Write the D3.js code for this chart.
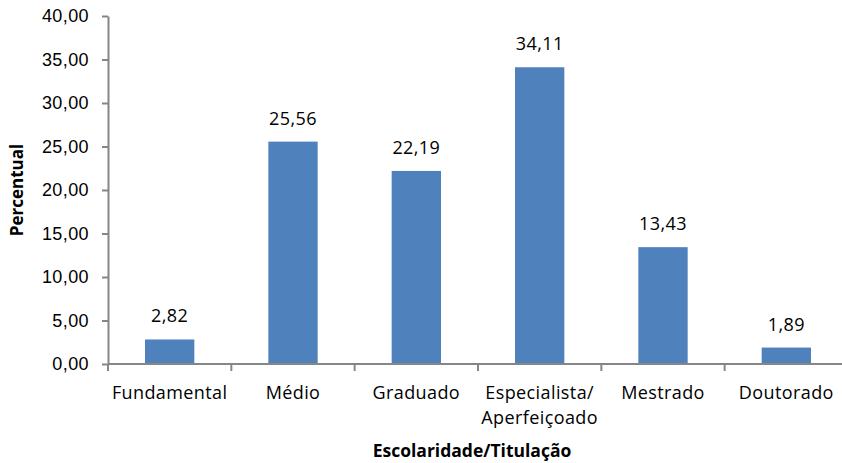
<!DOCTYPE html>
<html>
<head>
<meta charset="utf-8">
<script src="https://cdn.jsdelivr.net/npm/d3@7"></script>
<style>
  body { margin: 0; background: #fff; }
  svg { display: block; font-family: "Open Sans", sans-serif; }
  .axis path, .axis line { stroke: #868686; stroke-width: 2; }
  .axis text { fill: #000; font-size: 18px; letter-spacing: 0.4px; }
</style>
</head>
<body>
<svg class="chart" width="842" height="463"></svg>
<script>
const categories = ['Fundamental', 'Médio', 'Graduado', 'Especialista/\nAperfeiçoado', 'Mestrado', 'Doutorado']
const values = [2.82, 25.56, 22.19, 34.11, 13.43, 1.89]
const yTicks = [0, 5, 10, 15, 20, 25, 30, 35, 40]

const fmt = v => v.toFixed(2).replace('.', ',')

const svg = d3.select('.chart')
const margin = { top: 16, right: -6, bottom: 99, left: 108 }
const width = 842 - margin.left - margin.right
const height = 463 - margin.top - margin.bottom

const g = svg.append('g')
  .attr('transform', 'translate(' + margin.left + ',' + margin.top + ')')

const x = d3.scaleBand()
  .domain(categories)
  .range([0, width])
  .paddingInner(0.6)
  .paddingOuter(0.3)

const y = d3.scaleLinear()
  .domain([0, 40])
  .range([height, 0])

// bars
g.selectAll('rect')
  .data(values)
  .enter().append('rect')
    .attr('x', (d, i) => x(categories[i]))
    .attr('y', d => y(d))
    .attr('width', x.bandwidth())
    .attr('height', d => height - y(d))
    .attr('fill', '#4f81bd')

// data labels
g.selectAll('.label')
  .data(values)
  .enter().append('text')
    .attr('class', 'label')
    .attr('x', (d, i) => x(categories[i]) + x.bandwidth() / 2)
    .attr('y', d => y(d) - 17)
    .attr('text-anchor', 'middle')
    .attr('font-size', 18)
    .attr('letter-spacing', 0.4)
    .text(d => fmt(d))

// y axis
const yAxis = g.append('g')
  .attr('class', 'axis axis--y')
  .call(d3.axisLeft(y).tickValues(yTicks).tickFormat(fmt).tickSize(6).tickSizeOuter(0).tickPadding(13))

// x axis: ticks on band boundaries
const step = x.step()
const xb = g.append('g')
  .attr('class', 'axis axis--x')
  .attr('transform', 'translate(0,' + height + ')')
xb.append('line')
  .attr('x1', 0).attr('x2', width)
xb.selectAll('.tick')
  .data(d3.range(categories.length + 1))
  .enter().append('line')
    .attr('x1', i => i * step).attr('x2', i => i * step)
    .attr('y1', 0).attr('y2', 7)
xb.selectAll('.cat')
  .data(categories)
  .enter().append('text')
    .attr('x', d => x(d) + x.bandwidth() / 2)
    .attr('y', 35)
    .attr('text-anchor', 'middle')
    .each(function(d) {
      const lines = d.split('\n')
      d3.select(this).selectAll('tspan')
        .data(lines)
        .enter().append('tspan')
          .attr('x', x(d) + x.bandwidth() / 2)
          .attr('dy', (l, j) => j === 0 ? 0 : 25)
          .text(l => l)
    })

// axis titles
svg.append('text')
  .attr('transform', 'translate(23,190) rotate(-90)')
  .attr('text-anchor', 'middle')
  .attr('font-size', 17)
  .attr('font-weight', 'bold')
  .text('Percentual')

svg.append('text')
  .attr('x', 472)
  .attr('y', 457)
  .attr('text-anchor', 'middle')
  .attr('font-size', 17.5)
  .attr('font-weight', 'bold')
  .text('Escolaridade/Titulação')
</script>
</body>
</html>
